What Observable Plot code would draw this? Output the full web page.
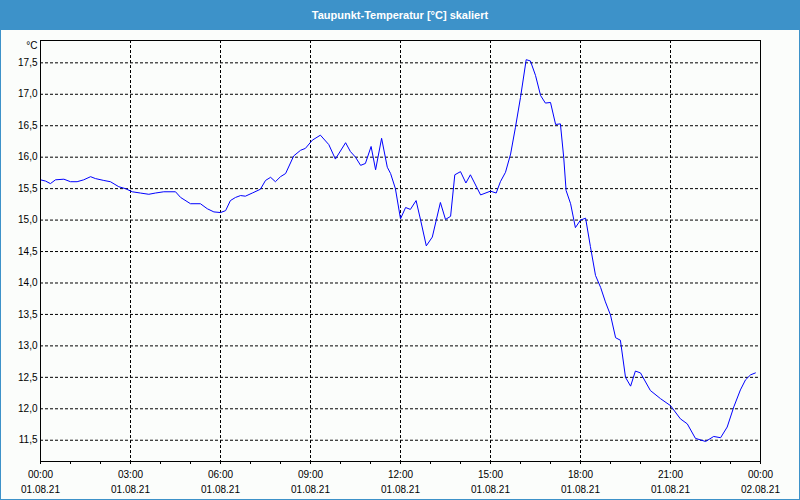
<!DOCTYPE html>
<html>
<head>
<meta charset="utf-8">
<script src="https://cdn.jsdelivr.net/npm/d3@7"></script>
<script src="https://cdn.jsdelivr.net/npm/@observablehq/plot@0.6"></script>
<style>
  html, body { margin: 0; padding: 0; background: #fff; }
  #wrap { position: relative; width: 800px; height: 500px; background: #fbfdfb; overflow: hidden; }
  #title { height: 30px; line-height: 30px; background: #3d92c9; color: #fff; text-align: center;
           font-family: "Liberation Sans", sans-serif; font-size: 11px; font-weight: bold; }
  #chart { position: absolute; left: 0; top: 30px; }
  #border { position: absolute; left: 0; top: 0; width: 800px; height: 500px; box-sizing: border-box;
            border: 1px solid #3d92c9; border-top: none; pointer-events: none; }
</style>
</head>
<body>
<div id="wrap">
  <div id="title">Taupunkt-Temperatur [°C] skaliert</div>
  <div id="chart"></div>
  <div id="border"></div>
</div>
<script>
// Time of day in hours (01.08.21)
const hours = [
  0, 0.17, 0.33, 0.5, 0.78, 1.0, 1.22, 1.44, 1.67, 1.83, 2.11, 2.33, 2.61, 2.83, 3.06, 3.33, 3.61, 3.83, 4.11, 4.5, 4.67, 5.0, 5.33, 5.56, 5.78, 6.0,
  6.17, 6.33, 6.5, 6.67, 6.83, 7.06, 7.33, 7.5, 7.67, 7.83, 8.0, 8.17, 8.44, 8.67, 8.83, 9.06, 9.33, 9.61, 9.83, 10.17, 10.33, 10.5, 10.67, 10.83, 11.02, 11.17, 11.37, 11.56, 11.67, 11.83, 12.0,
  12.17, 12.33, 12.52, 12.67, 12.86, 13.06, 13.33, 13.5, 13.67, 13.81, 14.0, 14.18, 14.33, 14.67, 15.0, 15.19, 15.33, 15.5, 15.67, 15.83, 16.0, 16.19, 16.33, 16.5, 16.67, 16.83, 17.0, 17.17, 17.33, 17.44, 17.52, 17.67, 17.83, 18.0,
  18.17, 18.33, 18.5, 18.67, 18.83, 19.0, 19.17, 19.33, 19.5, 19.67, 19.83, 20.0, 20.33, 20.67, 21.0, 21.33, 21.56, 21.83, 22.17, 22.44, 22.67, 22.89, 23.11, 23.33, 23.5, 23.67, 23.83
];
// Dew point temperature in °C
const dewPoint = [
  15.64, 15.62, 15.58, 15.64, 15.65, 15.61, 15.61, 15.64, 15.69, 15.66, 15.63, 15.61, 15.53, 15.50, 15.45, 15.43, 15.41, 15.43, 15.45, 15.45, 15.36, 15.26, 15.26, 15.18, 15.13, 15.12,
  15.15, 15.31, 15.36, 15.39, 15.38, 15.43, 15.49, 15.63, 15.68, 15.61, 15.69, 15.74, 16.02, 16.11, 16.14, 16.27, 16.35, 16.20, 15.97, 16.23, 16.09, 16.00, 15.87, 15.90, 16.17, 15.80, 16.30, 15.84, 15.74, 15.50, 15.02,
  15.20, 15.17, 15.31, 15.00, 14.59, 14.73, 15.28, 15.01, 15.06, 15.72, 15.77, 15.59, 15.72, 15.40, 15.46, 15.43, 15.61, 15.76, 16.05, 16.47, 16.95, 17.55, 17.53, 17.30, 16.98, 16.86, 16.87, 16.52, 16.53, 16.00, 15.47, 15.26, 14.88, 15.00,
  15.03, 14.58, 14.12, 13.93, 13.70, 13.49, 13.13, 13.09, 12.50, 12.36, 12.60, 12.57, 12.29, 12.16, 12.05, 11.84, 11.76, 11.53, 11.48, 11.56, 11.54, 11.71, 12.03, 12.30, 12.46, 12.54, 12.57
];
const yTicks = [11.5, 12.0, 12.5, 13.0, 13.5, 14.0, 14.5, 15.0, 15.5, 16.0, 16.5, 17.0, 17.5];
const majorHours = [0, 3, 6, 9, 12, 15, 18, 21, 24];
const hourLabels = ["00:00", "03:00", "06:00", "09:00", "12:00", "15:00", "18:00", "21:00", "00:00"];
const dateLabels = ["01.08.21", "01.08.21", "01.08.21", "01.08.21", "01.08.21", "01.08.21", "01.08.21", "01.08.21", "02.08.21"];
const minorHours = d3.range(0, 25);
const unitLabel = "°C";

const data = hours.map((h, i) => ({h, v: dewPoint[i]}));
const dash = "3,2";

const chart = Plot.plot({
  width: 800,
  height: 470,
  marginLeft: 40,
  marginRight: 40,
  marginTop: 10,
  marginBottom: 39,
  x: {domain: [0, 24]},
  y: {domain: [11.162, 17.855]},
  style: {background: "transparent", fontFamily: "Liberation Sans, sans-serif", fontSize: "10px", color: "#000"},
  marks: [
    Plot.gridY(yTicks, {stroke: "#000", strokeOpacity: 1, strokeDasharray: dash}),
    Plot.gridX(majorHours.slice(1, -1), {stroke: "#000", strokeOpacity: 1, strokeDasharray: dash}),
    Plot.axisY(yTicks, {tickSize: 0, tickPadding: 3, label: null, tickFormat: d => d.toFixed(1).replace(".", ",")}),
    Plot.axisX(minorHours, {tickSize: 3, label: null, tickFormat: () => ""}),
    Plot.axisX(majorHours, {tickSize: 0, tickPadding: 9, label: null, tickFormat: d => hourLabels[majorHours.indexOf(d)]}),
    Plot.axisX(majorHours, {tickSize: 0, tickPadding: 24, label: null, tickFormat: d => dateLabels[majorHours.indexOf(d)]}),
    Plot.line(data, {x: "h", y: "v", stroke: "#0000ff", strokeWidth: 1}),
    Plot.frame({stroke: "#000", strokeWidth: 1}),
    Plot.text([unitLabel], {frameAnchor: "top-left", textAnchor: "end", dx: -3, dy: 5, lineAnchor: "middle"})
  ]
});
document.getElementById("chart").appendChild(chart);
</script>
</body>
</html>
